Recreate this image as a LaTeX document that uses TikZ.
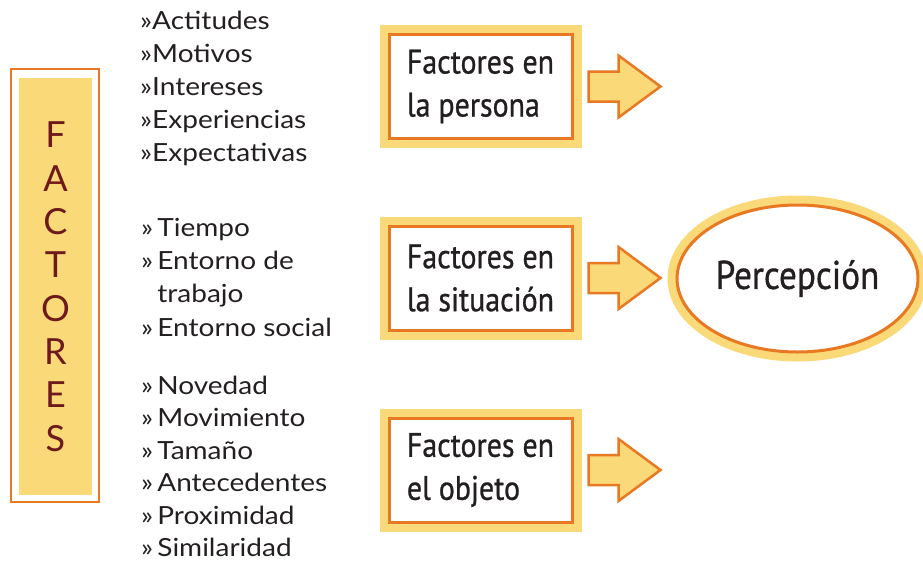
\documentclass[tikz,border=0pt]{standalone}
\usepackage{fontspec}
\setmainfont{Lato}
\newfontfamily\boxFont[FakeStretch=0.88, FakeBold=0.8]{PT Sans}
\newfontfamily\listFont[FakeStretch=1.12]{Lato}
\usetikzlibrary{positioning}
\usetikzlibrary{shapes.geometric}
\tikzstyle{diagram} = [x = 1pt, y = -1pt]
\definecolor{frameOrange}{RGB}{232,120,34}
\definecolor{frameYellow}{RGB}{249,217,120}
\definecolor{letterColor}{RGB}{110,26,28}
\definecolor{textColor}{RGB}{35,31,32}
\tikzstyle{factorBoxStyle} = [draw=frameOrange, line width=3pt, fill=white, line join=miter, minimum width=183pt, minimum height=104pt, preaction={draw=frameYellow, line width=19pt}, align=left, text=textColor, font=\boxFont\fontsize{34}{43}\selectfont]
\tikzstyle{perceptionStyle} = [ellipse, draw=frameOrange, line width=3pt, fill=white, minimum width=225pt, minimum height=147pt, preaction={draw=frameYellow, line width=19pt}, text=textColor, font=\boxFont\fontsize{40}{46}\selectfont]
\tikzstyle{arrowStyle} = [draw=frameOrange, fill=frameYellow, line width=2.5pt, line join=miter]
\tikzstyle{listItem} = [anchor=base west, inner sep=0pt, text=textColor, font=\listFont\fontsize{25}{28}\selectfont]
\tikzstyle{letterStyle} = [inner sep=0pt, text=letterColor, font=\fontsize{36}{40}\selectfont]
\newcommand{\factorBox}[3]{\node [factorBoxStyle] (#1) at (480.5, #2) {#3};}
\newcommand{\blockArrow}[1]{\filldraw [arrowStyle] ([xshift=15pt]#1.east) ++(0,-15) -- ++(30,0) -- ++(0,-16) -- ++(42,31) -- ++(-42,31) -- ++(0,-16) -- ++(-30,0) -- cycle;}

\begin{document}
\begin{tikzpicture}[diagram]
  \useasboundingbox (0,0) rectangle (923,562);
  % column of letters
  \draw [frameOrange, line width=2.5pt] (11,69) rectangle (99,502);
  \fill [frameYellow] (19,78) rectangle (92,495);
  \foreach \letter [count=\i from 0] in {F,A,C,T,O,R,E,S} {
    \pgfmathsetmacro{\var}{135 + 43.3 * \i}
    \node [letterStyle] (letter\i) at (55.5, \var) {\letter};
  }
  % lists
  \foreach \entry [count=\i from 0] in {Actitudes,Motivos,Intereses,Experiencias,Expectativas} {
    \pgfmathsetmacro{\var}{29 + 33 * \i}
    \node [listItem] (personaItem\i) at (140, \var) {»\entry};
  }
  \foreach \entry/\base [count=\i from 0] in {»\,Tiempo/236, »\,Entorno de/269, \phantom{»\,}trabajo/302, »\,Entorno social/336} {
    \node [listItem] (situacionItem\i) at (141, \base) {\entry};
  }
  \foreach \entry [count=\i from 0] in {Novedad,Movimiento,Tamaño,Antecedentes,Proximidad,Similaridad} {
    \pgfmathsetmacro{\var}{394 + 32.5 * \i}
    \node [listItem] (objetoItem\i) at (141, \var) {»\,\entry};
  }
  % boxes and arrows
  \factorBox{persona}{86.5}{Factores en\\la persona}
  \factorBox{situacion}{278}{Factores en\\la situación}
  \factorBox{objeto}{470}{Factores en\\el objeto}
  \blockArrow{persona}
  \blockArrow{situacion}
  \blockArrow{objeto}
  \node [perceptionStyle] (percepcion) at (797.5, 278.5) {Percepción};
\end{tikzpicture}
\end{document}
